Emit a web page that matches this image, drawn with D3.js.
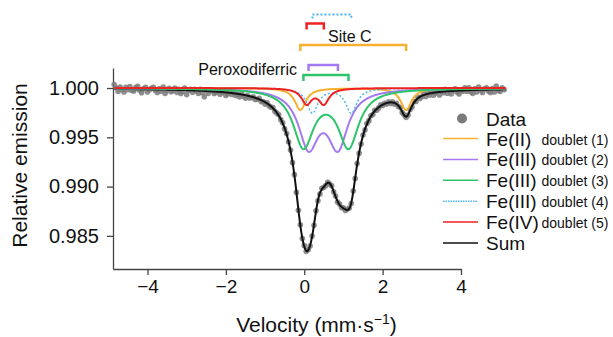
<!DOCTYPE html>
<html>
<head>
<meta charset="utf-8">
<script src="https://cdn.jsdelivr.net/npm/d3@7"></script>
<style>
	body { margin: 0; background: #fff; }
	svg text { font-family: "Liberation Sans", Arial, sans-serif; fill: #111; }
	.axis path, .axis line { stroke: #444; stroke-width: 1.3; }
</style>
</head>
<body>
<svg id="chart" width="613" height="337"></svg>
<script>
// measured spectrum: velocity grid start/step, relative emission per channel
var velStart = -4.85, velStep = 0.05;
var emission = [
	1.00036, 1.00003, 0.99965, 1.00010, 0.99985, 0.99960, 1.00008, 0.99982, 1.00014, 0.99974,
	0.99969, 1.00004, 1.00018, 0.99978, 0.99953, 0.99993, 1.00007, 0.99959, 0.99983, 0.99998,
	1.00008, 0.99974, 0.99955, 0.99993, 0.99967, 1.00009, 0.99944, 0.99978, 0.99997, 0.99961,
	0.99972, 1.00000, 0.99956, 0.99986, 0.99945, 0.99964, 0.99999, 0.99933, 0.99977, 0.99987,
	0.99958, 0.99987, 0.99969, 0.99944, 0.99988, 0.99952, 0.99911, 0.99975, 0.99944, 0.99978,
	0.99976, 0.99945, 0.99956, 0.99977, 0.99936, 0.99954, 0.99965, 0.99925, 0.99941, 0.99957,
	0.99934, 0.99956, 0.99924, 0.99936, 0.99910, 0.99939, 0.99919, 0.99897, 0.99923, 0.99900,
	0.99901, 0.99912, 0.99883, 0.99886, 0.99896, 0.99862, 0.99863, 0.99837, 0.99852, 0.99820,
	0.99806, 0.99802, 0.99764, 0.99745, 0.99728, 0.99679, 0.99648, 0.99585, 0.99538, 0.99452,
	0.99370, 0.99243, 0.99121, 0.98941, 0.98760, 0.98613, 0.98474, 0.98401, 0.98343, 0.98359,
	0.98398, 0.98499, 0.98607, 0.98755, 0.98856, 0.98925, 0.98982, 0.98993, 0.99010, 0.99044,
	0.99027, 0.99009, 0.98947, 0.98904, 0.98843, 0.98824, 0.98788, 0.98784, 0.98758, 0.98770,
	0.98783, 0.98829, 0.98955, 0.99082, 0.99233, 0.99337, 0.99431, 0.99524, 0.99575, 0.99639,
	0.99669, 0.99719, 0.99732, 0.99775, 0.99775, 0.99798, 0.99829, 0.99823, 0.99845, 0.99837,
	0.99860, 0.99844, 0.99859, 0.99837, 0.99845, 0.99813, 0.99802, 0.99750, 0.99729, 0.99702,
	0.99725, 0.99782, 0.99807, 0.99862, 0.99863, 0.99908, 0.99894, 0.99912, 0.99944, 0.99915,
	0.99953, 0.99927, 0.99969, 0.99927, 0.99950, 0.99973, 0.99930, 0.99970, 0.99952, 0.99987,
	0.99947, 0.99983, 0.99940, 0.99976, 0.99992, 0.99958, 0.99939, 0.99985, 0.99968, 1.00001,
	0.99967, 1.00003, 0.99961, 0.99944, 0.99992, 0.99959, 1.00011, 0.99977, 0.99954, 0.99991,
	1.00003, 0.99969, 0.99954, 0.99994, 0.99960, 1.00020, 0.99976, 0.99966, 1.00001, 0.99982
];

// fitted quadrupole doublets (line positions in mm/s, half width, depth)
var doubletNames  = ["Fe(II)", "Fe(III)", "Fe(III)", "Fe(III)", "Fe(IV)"];
var doubletLabels = ["doublet (1)", "doublet (2)", "doublet (3)", "doublet (4)", "doublet (5)"];
var lineLeft  = [-0.10, 0.11, -0.02, 0.21, 0.06];
var lineRight = [ 2.60, 0.86,  1.13, 1.20, 0.50];
var halfWidth = [ 0.17, 0.31, 0.317, 0.17, 0.158];
var depth     = [0.00223, 0.00565, 0.00580, 0.00250, 0.00155];

var xTicks = [-4, -2, 0, 2, 4];
var yTicks = [0.985, 0.990, 0.995, 1.000];

var colors = ["#f8b030", "#a57af0", "#2ec46a", "#4fb6f2", "#ee2222"];
var bracketY = [45, 65, 75, 14.5, 23.5]; // y of each doublet's bracket

var svg = d3.select("#chart");
var x = d3.scaleLinear().domain([-4.88, 4]).range([113, 461]);
var y = d3.scaleLinear().domain([0.98164, 1.00203]).range([269, 68]);

function lorentz(v, c, g) { return g*g/((v-c)*(v-c) + g*g); }
function comp(i, v) {
	return depth[i]*(lorentz(v, lineLeft[i], halfWidth[i]) + lorentz(v, lineRight[i], halfWidth[i]));
}

var grid = d3.range(velStart, velStart + velStep*emission.length, 0.01);
var line = d3.line().x(function(d){ return x(d[0]); }).y(function(d){ return y(d[1]); });

// axes
var xAxis = svg.append("g").attr("class", "axis").attr("transform", "translate(0,269)")
	.call(d3.axisBottom(x).tickValues(xTicks).tickSizeInner(6).tickSizeOuter(0).tickPadding(5));
xAxis.selectAll("text").style("font-size", "19px");
var yAxis = svg.append("g").attr("class", "axis").attr("transform", "translate(113,0)")
	.call(d3.axisLeft(y).tickValues(yTicks).tickFormat(d3.format(".3f")).tickSizeInner(6).tickSizeOuter(0).tickPadding(8));
yAxis.selectAll("text").style("font-size", "20px");

svg.append("text").attr("transform", "translate(27,165.5)rotate(-90)")
	.attr("text-anchor", "middle").style("font-size", "21px").text("Relative emission");
var xt = svg.append("text").attr("x", 316.5).attr("y", 332).attr("text-anchor", "middle").style("font-size", "21px");
xt.append("tspan").text("Velocity (mm\u00b7s");
xt.append("tspan").attr("dy", -8).style("font-size", "14px").text("\u22121");
xt.append("tspan").attr("dy", 8).text(")");

// data points
svg.append("g").selectAll("circle").data(emission).enter().append("circle")
	.attr("cx", function(d, i){ return x(velStart + i*velStep); })
	.attr("cy", function(d){ return y(d); })
	.attr("r", 2.8).attr("fill", "#7a7a7a").attr("fill-opacity", 0.85);

// sum of doublets
var sumPts = grid.map(function(v){
	var s = 0;
	for (var i = 0; i < depth.length; i++) s += comp(i, v);
	return [v, 1 - s];
});
svg.append("path").attr("d", line(sumPts)).attr("fill", "none").attr("stroke", "#111").attr("stroke-width", 2);

// components, red last so it sits on top
[0, 1, 2, 3, 4].forEach(function(i){
	var pts = grid.map(function(v){ return [v, 1 - comp(i, v)]; });
	svg.append("path").attr("d", line(pts)).attr("fill", "none")
		.attr("stroke", colors[i]).attr("stroke-width", i == 3 ? 1.5 : 2)
		.attr("stroke-dasharray", i == 3 ? "2,2" : null);
});

// brackets marking line positions
[3, 4, 0, 1, 2].forEach(function(i){
	var x1 = x(lineLeft[i]), x2 = x(lineRight[i]), by = bracketY[i], leg = i == 3 ? 4 : 6;
	svg.append("path").attr("d", "M" + x1 + "," + (by+leg) + "V" + by + "H" + x2 + "V" + (by+leg))
		.attr("fill", "none").attr("stroke", colors[i]).attr("stroke-width", i == 3 ? 2 : 2.5)
		.attr("stroke-dasharray", i == 3 ? "2,2" : null);
});
svg.append("text").attr("x", 328).attr("y", 42).style("font-size", "16px").text("Site C");
svg.append("text").attr("x", 297).attr("y", 74.5).attr("text-anchor", "end").style("font-size", "16px").text("Peroxodiferric");

// legend
var lg = svg.append("g");
lg.append("circle").attr("cx", 462).attr("cy", 118.5).attr("r", 5).attr("fill", "#7a7a7a");
lg.append("text").attr("x", 486).attr("y", 125.5).style("font-size", "19px").text("Data");
var names = doubletNames.concat(["Sum"]);
names.forEach(function(n, i){
	var ly = 138.5 + i*20.9;
	var c = i < 5 ? colors[i] : "#111";
	lg.append("line").attr("x1", 443).attr("x2", 478).attr("y1", ly).attr("y2", ly)
		.attr("stroke", c).attr("stroke-width", 1.5).attr("stroke-dasharray", i == 3 ? "1.5,1" : null);
	lg.append("text").attr("x", 486).attr("y", ly + 7).style("font-size", "19px").text(n);
	if (i < 5) lg.append("text").attr("x", 541.5).attr("y", ly + 6).style("font-size", "14px").text(doubletLabels[i]);
});
</script>
</body>
</html>
